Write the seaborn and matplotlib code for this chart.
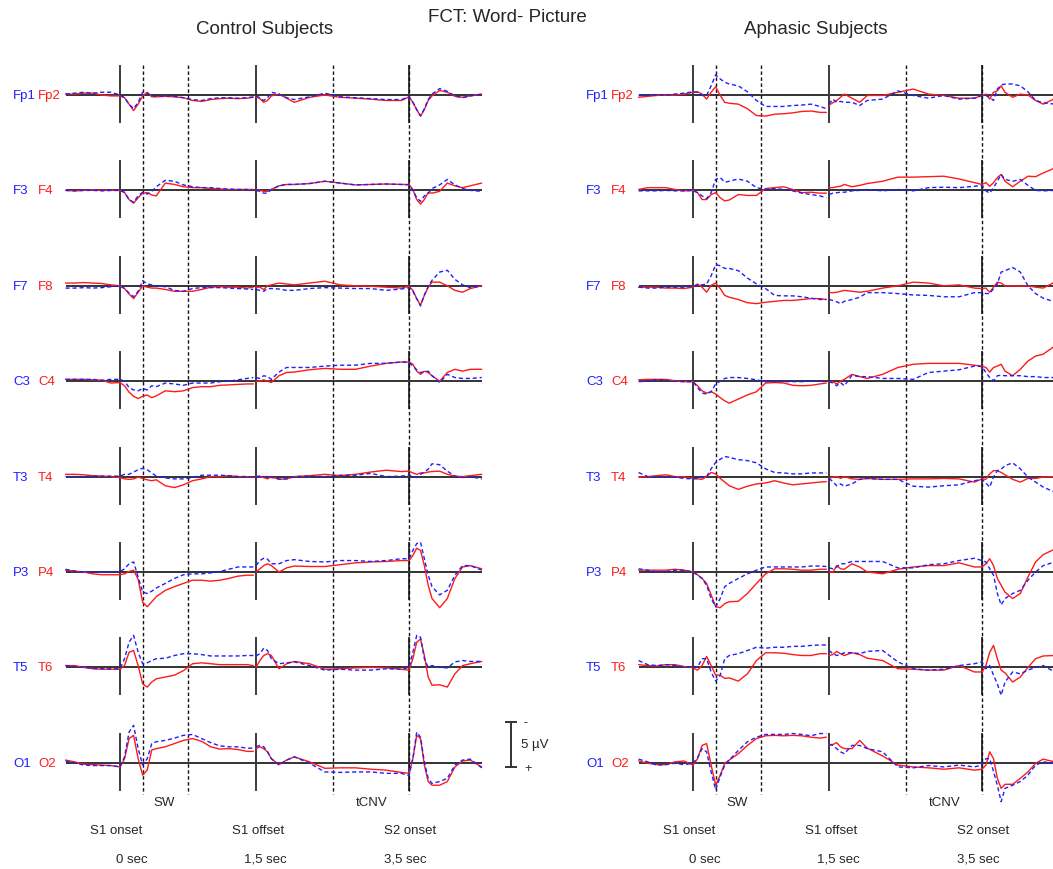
import numpy as np
import pandas as pd
import matplotlib
matplotlib.use("Agg")
import matplotlib.pyplot as plt
import seaborn as sns

# --- time grid (s, S1 onset = 0); epoch 1 runs to S1 offset, epoch 2 from S1 offset on ---
T_S1 = [-0.6, -0.5, -0.4, -0.3, -0.2, -0.1, 0.0, 0.05, 0.1, 0.15, 0.2, 0.25, 0.3, 0.35, 0.4,
        0.5, 0.6, 0.7, 0.8, 0.9, 1.0, 1.1, 1.2, 1.3, 1.4, 1.47]
T_S2 = [1.5, 1.55, 1.6, 1.65, 1.7, 1.8, 1.9, 2.0, 2.2, 2.4, 2.6, 2.8, 3.0, 3.2, 3.4,
        3.5, 3.55, 3.6, 3.65, 3.7, 3.75, 3.8, 3.9, 4.0, 4.1, 4.2, 4.3, 4.45]

EVENTS = [0.0, 1.5, 3.5]          # S1 onset, S1 offset, S2 onset
WINDOWS = [0.25, 0.75, 2.5, 3.5]  # SW and tCNV window borders
EVENT_NAMES = ["S1 onset", "S1 offset", "S2 onset"]
EVENT_TIMES = ["0 sec", "1,5 sec", "3,5 sec"]

LEFT_SITES = ["Fp1", "F3", "F7", "C3", "T3", "P3", "T5", "O1"]
RIGHT_SITES = ["Fp2", "F4", "F8", "C4", "T4", "P4", "T6", "O2"]

# --- grand averages in µV (negative up); first 26 values = epoch 1, rest = epoch 2 ---
# control subjects
ctrl_fp1 = [-0.1, -0.2, -0.3, -0.2, -0.3, -0.3, 0.0, 0.3, 1.0, 1.5, 0.8, -0.3, -0.2, 0.1, 0.15, 0.1, 0.15, 0.3, 0.5, 0.6, 0.4, 0.3, 0.3, 0.35, 0.3, 0.2,
            0.1, 0.3, 0.6, 0.3, -0.3, -0.1, 0.3, 0.5, 0.2, -0.2, 0.2, 0.3, 0.4, 0.5, 0.5, 0.2, 0.8, 1.6, 2.3, 1.5, 0.5, -0.1, -0.7, -0.4, 0.1, 0.3, 0.1, -0.1]
ctrl_fp2 = [-0.1, -0.1, -0.2, -0.2, 0.0, 0.1, 0.1, 0.3, 1.0, 1.7, 1.0, 0.1, -0.3, 0.2, 0.2, 0.15, 0.2, 0.3, 0.6, 0.7, 0.5, 0.4, 0.35, 0.4, 0.35, 0.25,
            0.2, 0.4, 0.8, 0.6, 0.1, -0.1, 0.35, 0.8, 0.25, 0.0, 0.25, 0.35, 0.45, 0.6, 0.6, 0.2, 0.8, 1.6, 2.3, 1.6, 0.6, 0.1, -0.5, -0.3, 0.15, 0.25, 0.1, -0.1]
ctrl_f3 = [0.0, 0.05, 0.0, 0.0, 0.05, 0.0, 0.0, 0.2, 1.0, 1.3, 0.6, 0.2, 0.4, 0.1, -0.4, -1.1, -1.0, -0.6, -0.4, -0.3, -0.3, -0.2, -0.15, -0.1, -0.1, -0.05,
           0.0, 0.1, 0.3, 0.3, -0.1, -0.5, -0.65, -0.65, -0.75, -1.0, -0.8, -0.6, -0.65, -0.7, -0.65, -0.6, 0.0, 0.8, 1.2, 0.6, 0.3, -0.2, -0.6, -1.2, -0.6, -0.2, 0.0, 0.1]
ctrl_f4 = [0.0, 0.05, 0.0, -0.05, 0.0, 0.0, 0.0, 0.25, 1.0, 1.4, 0.8, 0.3, 0.25, 0.5, 0.6, -0.8, -0.65, -0.4, -0.3, -0.3, -0.2, -0.15, -0.1, -0.1, -0.1, -0.1,
           0.0, 0.0, 0.1, 0.1, -0.1, -0.5, -0.65, -0.65, -0.75, -1.0, -0.8, -0.6, -0.65, -0.7, -0.65, -0.65, -0.1, 1.0, 1.5, 1.0, 0.25, 0.3, 0.1, -0.8, -0.5, -0.3, -0.5, -0.8]
ctrl_f7 = [0.25, 0.25, 0.2, 0.25, 0.2, 0.1, 0.0, 0.3, 0.8, 1.2, 0.6, -0.55, -0.2, -0.1, 0.0, 0.1, 0.5, 0.6, 0.3, 0.2, 0.2, 0.2, 0.25, 0.3, 0.35, 0.4,
           0.4, 0.5, 0.6, 0.3, 0.3, 0.35, 0.5, 0.5, 0.3, 0.2, 0.25, 0.3, 0.3, 0.5, 0.35, 0.2, 0.6, 1.4, 2.2, 1.0, 0.1, -0.6, -1.5, -1.7, -0.7, -0.1, 0.2, 0.0]
ctrl_f8 = [-0.3, -0.3, -0.35, -0.3, -0.25, -0.1, 0.0, 0.3, 0.9, 1.4, 0.7, 0.0, 0.15, 0.25, 0.25, 0.4, 0.6, 0.6, 0.6, 0.4, 0.15, 0.1, 0.15, 0.15, 0.25, 0.15,
           0.15, 0.15, 0.4, 0.0, -0.1, -0.3, -0.2, -0.1, -0.3, -0.5, -0.1, 0.0, 0.05, 0.15, 0.25, 0.05, 0.5, 1.4, 2.1, 1.05, 0.15, -0.4, -0.4, 0.0, 0.5, 0.7, 0.3, 0.0]
ctrl_c3 = [-0.2, -0.2, -0.2, -0.2, -0.1, -0.2, -0.2, 0.0, 0.7, 0.95, 1.05, 0.8, 0.95, 0.5, 0.6, 0.2, 0.3, 0.45, 0.2, 0.2, 0.2, 0.05, 0.0, -0.15, -0.3, -0.4,
           -0.4, -0.3, -0.6, -0.5, -0.2, -1.0, -1.5, -1.5, -1.5, -1.65, -1.75, -1.75, -1.95, -1.95, -2.1, -2.05, -1.65, -1.25, -0.95, -1.0, -1.1, -0.6, 0.15, -0.75, -0.4, -0.3, -0.3, -0.4]
ctrl_c4 = [-0.2, -0.2, -0.2, -0.15, -0.1, 0.2, 0.15, 0.5, 1.2, 1.65, 1.9, 1.65, 1.5, 1.8, 1.6, 1.05, 1.15, 1.05, 0.7, 0.6, 0.6, 0.45, 0.4, 0.35, 0.3, 0.3,
           0.0, 0.0, -0.15, 0.0, 0.15, -0.6, -0.95, -1.0, -1.25, -1.4, -1.3, -1.3, -1.65, -1.95, -2.1, -2.1, -1.85, -1.1, -0.75, -1.1, -0.95, -0.6, 0.0, -0.95, -1.3, -1.1, -1.3, -1.3]
ctrl_t3 = [0.0, 0.0, 0.0, -0.05, -0.05, -0.05, -0.05, -0.25, -0.25, -0.5, -0.75, -0.9, -0.75, -0.4, -0.05, 0.15, 0.25, 0.25, 0.1, -0.15, -0.15, -0.15, -0.1, 0.0, 0.0, 0.1,
           0.0, -0.05, 0.0, 0.0, 0.1, 0.25, 0.25, 0.0, -0.05, 0.0, -0.15, -0.15, -0.35, 0.0, -0.05, -0.15, 0.0, 0.1, -0.25, -0.5, -0.8, -1.4, -1.3, -0.6, -0.05, 0.1, 0.0, 0.25]
ctrl_t4 = [-0.25, -0.25, -0.2, -0.1, -0.05, 0.0, 0.1, 0.25, 0.3, 0.25, 0.05, 0.2, 0.35, 0.45, 0.35, 1.0, 1.2, 0.9, 0.45, 0.25, 0.0, 0.0, -0.1, 0.0, 0.0, 0.1,
           0.0, 0.0, 0.1, 0.25, 0.0, 0.3, 0.25, 0.0, -0.1, -0.25, -0.1, -0.25, -0.5, -0.7, -0.55, -0.6, -0.4, -0.25, -0.4, -0.4, -0.5, -0.55, -0.6, -0.25, -0.05, 0.0, -0.1, -0.25]
ctrl_p3 = [-0.3, -0.1, 0.0, 0.0, 0.0, 0.0, -0.05, -0.35, -0.9, -1.1, 0.55, 2.2, 2.35, 2.1, 1.75, 1.25, 0.7, 0.3, 0.2, 0.2, 0.1, -0.05, -0.3, -0.55, -0.55, -0.55,
           -0.7, -1.25, -1.5, -1.4, -0.9, -0.9, -1.25, -1.35, -1.15, -1.1, -1.25, -1.25, -1.15, -1.25, -1.45, -1.45, -2.35, -3.1, -3.25, -1.45, 0.35, 1.6, 2.5, 2.0, 0.35, -0.7, -0.7, -0.2]
ctrl_p4 = [-0.2, -0.1, 0.0, 0.2, 0.3, 0.3, 0.3, 0.2, -0.05, -0.2, 0.8, 3.3, 3.8, 3.25, 2.7, 2.0, 1.6, 1.25, 0.9, 0.9, 1.0, 0.9, 0.7, 0.45, 0.35, 0.35,
           0.0, -0.35, -0.7, -0.9, -0.7, 0.0, -0.45, -0.65, -0.6, -0.6, -0.8, -1.0, -1.1, -1.15, -1.25, -1.25, -1.8, -2.6, -2.35, -0.7, 1.45, 2.9, 3.9, 2.9, 0.7, -0.55, -0.7, -0.35]
ctrl_t5 = [-0.2, -0.1, 0.0, 0.1, 0.15, 0.15, 0.15, -0.95, -2.75, -3.5, -1.65, -0.4, -0.5, -0.75, -0.95, -1.0, -1.3, -1.5, -1.5, -1.4, -1.25, -1.25, -1.25, -1.25, -1.3, -1.3,
           -1.25, -1.5, -2.1, -1.85, -0.95, -0.4, -0.5, -0.6, -0.2, 0.3, 0.2, 0.3, 0.3, 0.15, 0.2, 0.0, -1.65, -3.5, -3.3, -0.95, 0.0, -0.2, 0.0, 0.05, -0.6, -0.75, -0.65, -0.65]
ctrl_t6 = [-0.2, -0.2, 0.0, 0.15, 0.2, 0.2, 0.2, -0.2, -1.65, -1.85, -0.2, 1.8, 2.15, 1.6, 1.25, 1.05, 0.85, 0.35, -0.4, -0.5, -0.4, -0.3, -0.3, -0.3, -0.3, -0.2,
           0.0, -0.75, -1.3, -1.5, -1.3, 0.15, -0.4, -0.65, -0.4, 0.2, 0.15, 0.05, 0.0, 0.05, 0.2, 0.3, -0.95, -2.75, -3.1, -1.3, 1.05, 1.95, 1.9, 2.15, 0.7, -0.2, -0.4, -0.65]
ctrl_o1 = [-0.2, 0.0, 0.25, 0.3, 0.3, 0.3, 0.45, -0.65, -3.35, -4.1, -1.55, 0.25, -0.45, -2.1, -2.3, -2.45, -2.7, -3.0, -3.1, -2.65, -2.2, -1.85, -1.75, -1.75, -1.6, -1.6,
           -1.75, -1.9, -1.75, -1.2, -0.45, 0.25, -0.3, -0.65, 0.05, 1.0, 1.05, 1.0, 1.0, 1.15, 1.15, 1.4, -0.45, -3.35, -2.8, -0.1, 1.7, 2.25, 2.05, 1.7, 0.25, -0.3, -0.4, 0.55]
ctrl_o2 = [-0.3, -0.1, 0.15, 0.2, 0.25, 0.3, 0.45, -0.45, -2.65, -3.0, -0.45, 1.35, 0.8, -1.4, -1.55, -1.75, -2.1, -2.45, -2.65, -2.35, -1.75, -1.5, -1.55, -1.45, -1.25, -1.25,
           -1.55, -1.75, -1.55, -1.2, -0.45, 0.2, -0.3, -0.65, -0.1, 0.6, 0.55, 0.55, 0.7, 0.8, 1.05, 1.15, -0.45, -3.0, -2.65, 0.25, 2.05, 2.45, 2.45, 2.05, 0.45, -0.2, -0.3, 0.45]

# aphasic subjects
aph_fp1 = [0.05, 0.05, 0.0, 0.0, -0.1, -0.2, -0.35, -0.3, 0.05, 0.05, -1.0, -2.2, -1.75, -1.4, -1.2, -1.0, -0.35, 0.6, 1.25, 1.25, 1.25, 1.15, 1.1, 1.0, 1.25, 1.5,
           1.0, 0.45, 0.8, 0.7, 0.8, 0.8, 1.15, 0.6, 0.45, -0.45, 0.05, 0.35, 0.05, 0.45, 0.35, 0.05, 0.05, 0.25, 0.6, -0.65, -1.1, -1.2, -1.2, -1.0, -0.35, 0.6, 0.85, 1.0]
aph_fp2 = [0.25, 0.15, 0.05, 0.0, 0.0, -0.1, -0.3, -0.35, -0.1, 0.45, -0.3, -0.9, 0.05, 0.8, 0.9, 1.0, 1.5, 2.25, 2.3, 2.1, 2.05, 1.95, 1.8, 1.75, 1.9, 1.9,
           1.1, 0.85, 0.6, 0.25, -0.1, 0.35, 0.8, 0.05, 0.05, -0.3, -0.65, -0.1, 0.05, 0.35, 0.35, 0.05, -0.1, 0.45, -0.3, -0.45, -1.0, -0.3, 0.25, -0.1, 0.0, 0.6, 1.0, 0.4]
aph_f3 = [0.05, 0.05, 0.05, 0.0, 0.05, 0.05, 0.0, 0.25, 0.6, 0.9, 0.25, -1.2, -1.4, -0.9, -1.0, -1.25, -1.0, -0.3, -0.1, -0.2, -0.1, 0.05, 0.3, 0.45, 0.6, 0.8,
          0.45, 0.3, 0.25, 0.2, 0.2, 0.05, 0.0, -0.1, 0.05, -0.1, 0.05, -0.3, -0.35, -0.3, -0.45, -0.55, 0.05, 0.3, -0.3, -1.0, -1.75, -1.2, -1.0, -1.2, -0.55, 0.0, 0.05, 0.0]
aph_f4 = [-0.1, -0.3, -0.3, -0.3, -0.1, 0.05, 0.0, 0.25, 1.0, 1.0, 0.45, 0.25, 0.8, 1.15, 1.05, 0.45, 0.55, 0.55, -0.2, -0.3, -0.4, -0.1, 0.25, 0.2, 0.3, 0.3,
          -0.3, -0.3, -0.4, -0.45, -0.65, -0.4, -0.55, -0.75, -1.0, -1.45, -1.45, -1.5, -1.55, -1.25, -0.85, -0.65, -0.85, -0.45, -0.85, -1.4, -1.75, -1.0, -0.4, -1.0, -1.55, -1.5, -1.9, -2.45]
aph_f7 = [0.15, 0.25, 0.25, 0.15, 0.15, 0.15, 0.05, -0.1, -0.1, -0.2, -1.1, -2.3, -2.2, -1.9, -1.9, -1.65, -0.85, -0.2, 0.3, 1.05, 1.1, 1.1, 1.2, 1.35, 1.5, 1.5,
          1.5, 1.6, 1.75, 1.95, 1.7, 1.5, 1.25, 0.75, 0.75, 0.85, 1.0, 1.05, 1.2, 1.2, 0.75, 0.75, 0.85, 0.85, 0.3, -0.2, -1.5, -1.65, -2.0, -1.5, 0.0, 0.85, 1.35, 1.75]
aph_f8 = [0.15, 0.15, 0.15, 0.25, 0.25, 0.3, 0.15, -0.2, 0.15, 0.7, -0.05, -0.3, 0.3, 1.05, 1.25, 1.5, 1.85, 1.95, 1.8, 1.7, 1.6, 1.6, 1.5, 1.4, 1.4, 1.5,
          0.75, 0.75, 0.7, 0.6, 0.5, 0.6, 0.7, 0.6, 0.25, 0.0, -0.4, -0.3, 0.0, -0.1, 0.25, 0.3, 0.25, 0.7, 0.15, -0.4, -0.3, 0.0, 0.0, 0.05, 0.0, 0.15, 0.25, -0.4]
aph_c3 = [0.05, 0.0, -0.2, -0.1, 0.0, 0.05, 0.05, 0.7, 1.3, 1.4, 1.15, 0.3, 0.0, -0.3, -0.4, -0.4, -0.3, -0.15, 0.05, 0.05, 0.05, 0.05, 0.05, 0.0, 0.0, 0.05,
          0.05, 0.2, 0.5, 0.15, 0.5, -0.65, -0.5, -0.5, -0.3, -0.3, -0.2, -0.95, -1.1, -1.25, -1.65, -1.6, -0.95, -0.4, -0.05, -0.6, -0.65, -0.6, -0.6, -0.6, -0.5, -0.5, -0.4, -0.4]
aph_c4 = [-0.15, -0.2, -0.2, -0.2, -0.05, 0.05, 0.05, 0.5, 1.05, 1.3, 1.15, 1.4, 1.8, 2.15, 2.4, 1.95, 1.5, 1.15, 0.2, 0.15, 0.2, 0.45, 0.5, 0.45, 0.3, 0.2,
          0.05, 0.05, 0.3, 0.0, -0.2, -0.75, -0.5, -0.3, -0.75, -1.5, -1.85, -1.95, -1.95, -1.95, -1.75, -1.65, -1.5, -1.0, -1.5, -1.65, -1.85, -1.1, -0.6, -1.3, -2.2, -2.75, -2.95, -3.85]
aph_t3 = [-0.45, 0.0, 0.05, 0.0, 0.05, 0.2, 0.25, 0.2, 0.05, 0.0, -0.85, -1.55, -1.9, -2.2, -2.1, -1.85, -1.75, -1.5, -0.85, -0.45, -0.4, -0.3, -0.3, -0.4, -0.4, -0.4,
          0.2, 0.55, 1.0, 0.8, 1.05, 0.8, 0.3, 0.2, 0.3, 0.3, 1.05, 1.15, 1.0, 0.9, 0.45, 0.3, 0.7, 1.15, 0.05, -0.65, -0.8, -1.2, -1.5, -0.85, 0.05, 0.6, 1.15, 1.7]
aph_t4 = [0.05, 0.0, -0.1, -0.2, 0.0, 0.05, 0.2, 0.25, 0.3, 0.0, -0.45, -0.3, 0.2, 0.6, 1.0, 1.4, 1.05, 0.8, 0.7, 0.45, 0.7, 0.9, 0.8, 0.7, 0.6, 0.55,
          0.2, 0.05, 0.0, 0.2, 0.0, 0.25, 0.3, 0.2, 0.3, 0.3, 0.25, 0.25, 0.2, 0.25, 0.6, 0.25, 0.3, -0.3, -0.65, -0.65, -0.45, -0.2, 0.3, 0.6, 0.2, 0.2, 0.05, 0.0]
aph_p3 = [-0.35, -0.2, 0.0, -0.05, -0.2, -0.2, 0.0, 0.35, 0.7, 1.45, 2.9, 3.8, 2.9, 1.6, 1.25, 0.7, 0.2, -0.2, -0.55, -0.55, -0.55, -0.55, -0.55, -0.65, -0.65, -0.6,
          -0.45, -0.35, -0.55, -0.9, -0.9, -1.15, -1.15, -1.15, -1.15, -0.45, -0.45, -0.8, -0.9, -1.25, -1.5, -1.25, -1.1, -0.35, 0.35, 2.35, 3.6, 2.9, 2.35, 2.0, 0.9, 0.0, -0.7, -1.1]
aph_p4 = [-0.2, -0.2, -0.2, -0.2, -0.3, -0.2, 0.0, 0.3, 0.7, 1.25, 2.5, 3.8, 3.9, 3.45, 3.25, 3.2, 2.35, 1.25, 0.2, -0.35, -0.35, -0.3, -0.2, -0.2, -0.3, -0.3,
          0.0, 0.05, -0.7, -0.35, -0.3, -0.9, -0.55, 0.0, 0.2, -0.3, -0.55, -0.7, -0.7, -1.0, -0.55, -0.55, -0.9, -1.45, -0.7, 0.7, 1.45, 2.2, 2.9, 2.35, 0.55, -1.1, -1.9, -2.5]
aph_t5 = [-0.75, -0.3, -0.2, -0.3, -0.2, -0.05, 0.0, -0.05, -0.95, -0.95, 0.5, 1.5, 0.85, -0.95, -1.3, -1.5, -1.85, -2.2, -2.1, -2.2, -2.2, -2.3, -2.3, -2.4, -2.45, -2.45,
          -1.85, -1.5, -1.3, -1.4, -1.6, -1.6, -1.5, -1.75, -1.85, -0.6, 0.15, 0.3, 0.2, -0.2, -0.4, -0.6, 0.15, -0.2, 0.85, 1.8, 3.05, 1.6, 0.5, 0.7, 0.3, 0.0, -0.2, 0.5]
aph_t6 = [-0.3, -0.2, -0.15, -0.3, -0.3, -0.1, 0.05, 0.3, -0.2, -1.2, -0.2, 0.85, 0.85, 1.2, 1.15, 1.5, 0.7, -0.75, -1.6, -1.6, -1.55, -1.4, -1.3, -1.3, -1.5, -1.5,
          -1.3, -1.4, -1.75, -1.5, -1.3, -1.6, -1.4, -1.0, -0.75, 0.15, 0.2, 0.3, 0.3, -0.2, 0.5, 0.5, -0.2, -1.65, -2.4, -0.95, 0.3, 0.6, 1.6, 1.05, 0.0, -0.95, -1.25, -1.3]
aph_o1 = [-0.4, -0.1, 0.25, 0.2, 0.05, 0.2, 0.05, -0.55, -1.55, -1.2, 1.0, 2.95, 1.5, 0.25, -0.3, -1.35, -2.3, -2.8, -3.1, -3.1, -3.1, -3.2, -3.1, -2.95, -3.2, -3.2,
          -2.0, -1.9, -1.55, -1.2, -1.0, -1.9, -1.9, -1.55, -1.2, 0.45, 0.55, 0.3, 0.45, 0.25, 0.45, 0.25, -0.45, -0.45, 0.95, 2.45, 4.25, 2.8, 2.45, 2.05, 1.35, 0.25, -0.1, 0.05]
aph_o2 = [-0.2, 0.05, 0.2, 0.2, -0.1, -0.2, 0.25, -0.45, -1.9, -2.1, 0.25, 2.45, 1.35, 0.05, -0.3, -1.0, -1.9, -2.65, -2.95, -3.0, -2.95, -3.0, -2.95, -2.8, -2.7, -2.8,
          -2.0, -2.0, -2.2, -1.75, -1.55, -1.55, -2.45, -1.6, -0.75, 0.25, 0.45, 0.55, 0.7, 0.55, 0.8, 0.7, 0.25, -1.2, -0.45, 1.7, 2.8, 2.35, 2.35, 1.7, 1.0, 0.05, -0.4, -0.1]

CTRL_LEFT = [ctrl_fp1, ctrl_f3, ctrl_f7, ctrl_c3, ctrl_t3, ctrl_p3, ctrl_t5, ctrl_o1]
CTRL_RIGHT = [ctrl_fp2, ctrl_f4, ctrl_f8, ctrl_c4, ctrl_t4, ctrl_p4, ctrl_t6, ctrl_o2]
APH_LEFT = [aph_fp1, aph_f3, aph_f7, aph_c3, aph_t3, aph_p3, aph_t5, aph_o1]
APH_RIGHT = [aph_fp2, aph_f4, aph_f8, aph_c4, aph_t4, aph_p4, aph_t6, aph_o2]

# --- layout (pixels) ---
W, H = 1053, 870
PX_PER_S_1 = 90.7      # epoch 1 time scale
PX_PER_S_2 = 76.5      # epoch 2 time scale
PX_PER_UV = 9.15
ROW_Y0, ROW_STEP = 96, 95.4
BLUE, RED = "#1f1fff", "#ff1a1a"


def time_to_px(t):
    t = np.asarray(t, dtype=float)
    return np.where(t <= 1.5, t * PX_PER_S_1, 1.5 * PX_PER_S_1 + (t - 1.5) * PX_PER_S_2)


def build_frame(left_rows, right_rows):
    n1 = len(T_S1)
    parts = []
    for i in range(len(LEFT_SITES)):
        base = ROW_Y0 + i * ROW_STEP
        for hemi, rows in (("right", right_rows), ("left", left_rows)):
            vals = np.asarray(rows[i], dtype=float)
            assert len(vals) == n1 + len(T_S2)
            for ep, t, v in (("e1", T_S1, vals[:n1]), ("e2", T_S2, vals[n1:])):
                parts.append(pd.DataFrame({
                    "x": time_to_px(t),
                    "y": base + v * PX_PER_UV,
                    "hemi": hemi,
                    "trace": f"{hemi}_{i}_{ep}",
                }))
    return pd.concat(parts, ignore_index=True)


sns.set_theme(style="white")
plt.rcParams["font.family"] = ["Liberation Sans", "DejaVu Sans"]

fig = plt.figure(figsize=(W / 100, H / 100), dpi=100)

# title, S1 onset pixel, title x offset, data, scale bar
panels = [
    ("Control Subjects", 120, 145, CTRL_LEFT, CTRL_RIGHT, True),
    ("Aphasic Subjects", 693, 123, APH_LEFT, APH_RIGHT, False),
]

for title, onset_px, title_x, left_rows, right_rows, with_scale in panels:
    ax = fig.add_axes([0, 0, 1, 1])
    ax.patch.set_alpha(0)

    x_start = float(time_to_px(T_S1[0]))
    x_end = float(time_to_px(T_S2[-1]))
    for i in range(len(LEFT_SITES)):
        base = ROW_Y0 + i * ROW_STEP
        ax.hlines(base, x_start, x_end, color="#111111", lw=1.2, zorder=1)
        ax.vlines(time_to_px(EVENTS), base - 30, base + 28, color="#3a3a3a", lw=1.4, zorder=1)
        ax.text(-107, base, LEFT_SITES[i], color=BLUE, fontsize=9.5, ha="left", va="center")
        ax.text(-82, base, RIGHT_SITES[i], color=RED, fontsize=9.5, ha="left", va="center")

    ax.vlines(time_to_px(WINDOWS), 66, 795, color="#111111", lw=1.0,
              linestyles=(0, (2.5, 1.8)), zorder=1)

    df = build_frame(left_rows, right_rows)
    sns.lineplot(data=df, x="x", y="y", hue="hemi", style="hemi", units="trace",
                 estimator=None, sort=False, hue_order=["right", "left"],
                 palette={"right": RED, "left": BLUE},
                 dashes={"right": "", "left": (3, 2)},
                 linewidth=1.0, legend=False, ax=ax, zorder=3)
    ax.set_xlim(-onset_px, W - onset_px)
    ax.set_ylim(H, 0)
    ax.axis("off")

    ax.text(title_x, 29, title, fontsize=13.5, ha="center", va="center")
    ax.text(44, 803, "SW", fontsize=9.5, ha="center", va="center")
    ax.text(252, 803, "tCNV", fontsize=9.5, ha="center", va="center")
    for x, name in zip([-4, 138.5, 290], EVENT_NAMES):
        ax.text(x, 831, name, fontsize=9.5, ha="center", va="center")
    for x, lab in zip([12, 145, 285.5], EVENT_TIMES):
        ax.text(x, 860, lab, fontsize=9.5, ha="center", va="center")

    if with_scale:
        bar_bottom = 768.3
        bar_top = bar_bottom - 5 * PX_PER_UV
        ax.vlines(391, bar_top, bar_bottom, color="#333333", lw=1.4)
        ax.hlines([bar_top, bar_bottom], 384.5, 397, color="#333333", lw=1.4)
        ax.text(404, bar_top + 1, "-", fontsize=9, ha="left", va="center")
        ax.text(404, bar_bottom + 1, "+", fontsize=9, ha="left", va="center")
        ax.text(401, (bar_top + bar_bottom) / 2, "5 µV", fontsize=9.5, ha="left", va="center")

fig.text(507 / W, 1 - 18 / H, "FCT: Word- Picture", fontsize=13.5, ha="center", va="center")

fig.savefig("out.png", dpi=100)
